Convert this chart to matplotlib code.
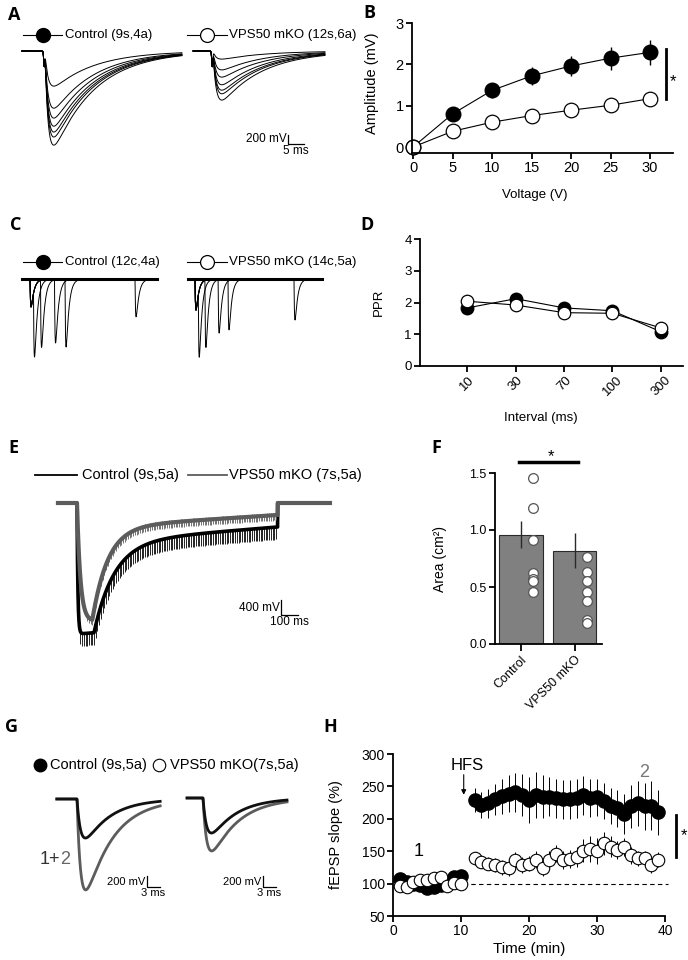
import numpy as np
import matplotlib.pyplot as plt

plt.rcParams['font.family'] = ['Liberation Sans', 'DejaVu Sans']
BOLD = ['Open Sans', 'DejaVu Sans']
GRAY = '#5c5c5c'

# ---------------- data ----------------
# A: example fEPSPs, peak amplitude (uV) for each stimulus intensity
a_ctrl_peaks = [780, 1270, 1490, 1670, 1800, 1910, 2090]
a_ko_peaks = [180, 420, 580, 750, 870, 950, 1090]

# B: input-output curve
voltage = [0, 5, 10, 15, 20, 25, 30]
amp_ctrl = [0, 0.80, 1.37, 1.72, 1.96, 2.15, 2.29]
amp_ctrl_err = [0, 0.10, 0.18, 0.22, 0.25, 0.28, 0.30]
amp_ko = [0, 0.38, 0.60, 0.76, 0.89, 1.01, 1.17]
amp_ko_err = [0, 0.12, 0.08, 0.08, 0.12, 0.14, 0.15]

# C: paired-pulse traces (uV), interval in ms
pp_intervals = [10, 30, 70, 100, 300]
c_ctrl_first = 620
c_ctrl_second = [1510, 1500, 1420, 1510, 840]
c_ko_first = 690
c_ko_second = [1490, 1500, 1200, 1130, 910]

# D: paired-pulse ratio
ppr_labels = ['10', '30', '70', '100', '300']
ppr_ctrl = [1.83, 2.12, 1.83, 1.74, 1.08]
ppr_ctrl_err = [0.06, 0.07, 0.06, 0.06, 0.05]
ppr_ko = [2.04, 1.92, 1.68, 1.66, 1.20]
ppr_ko_err = [0.06, 0.06, 0.07, 0.08, 0.10]

# E: response to the HFS train (uV, ms)
train_ms = 1180
e_ctrl = dict(amp=2430, tau_r=5, hold=100, tau_d=120, p0=1070, p1=640)
e_ko = dict(amp=2510, tau_r=20, hold=90, tau_d=90, p0=670, p1=320)

# F: area
area_groups = ['Control', 'VPS50 mKO']
area_mean = [0.96, 0.82]
area_err = [0.12, 0.15]
area_ctrl_pts = [1.46, 1.19, 0.91, 0.62, 0.57, 0.55, 0.46]
area_ko_pts = [0.76, 0.63, 0.55, 0.46, 0.38, 0.21, 0.18]

# G: fEPSP before (1) and after (2) HFS, uV
g_before = [730, 655]
g_after = [1700, 990]

# H: LTP time course
t_base = list(range(1, 11))
t_post = list(range(12, 40))
ltp_ctrl_base = [107, 103, 100, 98, 93, 95, 98, 103, 110, 112]
ltp_ctrl_base_err = [6, 5, 5, 5, 6, 6, 5, 5, 6, 6]
ltp_ko_base = [96, 94, 103, 105, 106, 108, 110, 97, 101, 100]
ltp_ko_base_err = [6, 6, 6, 6, 7, 7, 7, 6, 6, 6]
ltp_ctrl_post = [229, 222, 224, 230, 235, 239, 241, 237, 229,
                 237, 234, 234, 232, 230, 230, 232, 236, 232, 233,
                 227, 220, 216, 208, 219, 224, 219, 220, 210]
ltp_ctrl_post_err = [18, 20, 22, 24, 27, 28, 30, 32, 36,
                     35, 33, 30, 30, 30, 30, 30, 30, 29, 29,
                     28, 28, 29, 31, 33, 35, 37, 38, 35]
ltp_ko_post = [139, 134, 131, 129, 125, 124, 137, 129, 131,
               137, 124, 137, 146, 137, 138, 141, 151, 153, 151,
               162, 157, 152, 156, 144, 139, 139, 129, 137]
ltp_ko_post_err = [10, 10, 10, 11, 11, 12, 12, 12, 12,
                   13, 13, 13, 13, 14, 14, 15, 18, 20, 20,
                   18, 16, 14, 14, 13, 12, 12, 12, 12]

# ---------------- helpers ----------------
W, H = 688, 960
fig = plt.figure(figsize=(W / 100, H / 100), dpi=100)


def px_axes(left, top, right, bottom):
    return fig.add_axes([left / W, 1 - bottom / H, (right - left) / W, (bottom - top) / H])


def trace_axes(left, top, right, bottom, x0, y0, px_ms, uv_px):
    # axes in ms / uV with stimulus time 0 and baseline 0 at pixel (x0, y0)
    ax = px_axes(left, top, right, bottom)
    ax.set_xlim((left - x0) / px_ms, (right - x0) / px_ms)
    ax.set_ylim(-(bottom - y0) * uv_px, (y0 - top) * uv_px)
    ax.axis('off')
    return ax


def epsp(t, amp, tau_r, tau_d):
    tp = np.log(tau_d / tau_r) * tau_d * tau_r / (tau_d - tau_r)
    norm = np.exp(-tp / tau_d) - np.exp(-tp / tau_r)
    s = np.clip(t, 0, None)
    return -amp * (np.exp(-s / tau_d) - np.exp(-s / tau_r)) / norm


def hfs_response(t, amp, tau_r, hold, tau_d, p0, p1, train=train_ms):
    s = np.clip(t, 0, None)
    rise = 1 - np.exp(-s / tau_r)
    trans = amp * rise * np.exp(-np.clip(s - hold, 0, None) / tau_d)
    plateau = (p0 + (p1 - p0) * s / train) * rise
    return np.where((t >= 0) & (t < train), -(trans + plateau), 0.0)


def scale_bar(ax, corner, dx, dy, vlabel, hlabel, fs=8.5):
    x, y = ax.transData.inverted().transform((corner[0], H - corner[1]))
    ax.plot([x, x, x + dx], [y + dy, y, y], color='k', lw=0.9, clip_on=False)
    ax.annotate(vlabel, (x, y + dy / 2), xytext=(-1, 0), textcoords='offset points',
                ha='right', va='center', fontsize=fs)
    ax.annotate(hlabel, (x + dx / 2, y), xytext=(0, -1), textcoords='offset points',
                ha='center', va='top', fontsize=fs)


def style(ax, fs=9.5):
    for s in ['top', 'right']:
        ax.spines[s].set_visible(False)
    for s in ['left', 'bottom']:
        ax.spines[s].set_linewidth(1.3)
    ax.tick_params(direction='out', length=4, width=1.3, labelsize=fs, pad=2)


# ---------------- A ----------------
def volley(t):
    return -350 * np.exp(-((t - 0.4) / 0.25) ** 2)


axA1 = trace_axes(10, 40, 186, 170, 43, 51, 3.2, 22.2)
t = np.linspace(-6.6, 43.4, 1200)
for a in a_ctrl_peaks:
    axA1.plot(t, epsp(t - 0.6, a, 1.0, 13) + volley(t), color='k', lw=0.7)
axA2 = trace_axes(186, 40, 350, 170, 211, 51, 3.2, 22.2)
t = np.linspace(-5.6, 35.6, 1000)
for a in a_ko_peaks:
    axA2.plot(t, epsp(t - 0.6, a, 1.0, 13) + volley(t), color='k', lw=0.7)
scale_bar(axA2, (288, 144), 5, 200, '200 mV', '5 ms')

# ---------------- B ----------------
axB = px_axes(412, 23, 673, 153)
axB.errorbar(voltage, amp_ctrl, yerr=amp_ctrl_err, fmt='o-', color='k', mfc='k',
             ms=10.5, lw=0.8, elinewidth=1, capsize=0, clip_on=False)
axB.errorbar(voltage, amp_ko, yerr=amp_ko_err, fmt='o-', color='k', mfc='white', mec='k',
             mew=0.9, ms=10.5, lw=0.8, elinewidth=1, capsize=0, clip_on=False)
axB.set_xlim(-0.13, 32.9)
axB.set_ylim(-0.145, 3)
axB.set_xticks(voltage)
axB.set_yticks([0, 1, 2, 3])
style(axB, 10.5)
axB.set_xlabel('Voltage (V)', fontsize=9.5)
axB.set_ylabel('Amplitude (mV)', fontsize=10.5)
axB.xaxis.set_label_coords(0.47, -0.28)
axB.yaxis.set_label_coords(-0.125, 0.54)

# ---------------- C ----------------
axC1 = trace_axes(10, 262, 180, 380, 30, 279, 0.35, 22.2)
t = np.linspace(-23, 363, 4000)
for iv, a2 in zip(pp_intervals, c_ctrl_second):
    axC1.plot(t, epsp(t, c_ctrl_first, 1.5, 8) + epsp(t - iv, a2, 1.5, 8), color='k', lw=0.7)
axC1.plot([-23, 363], [0, 0], color='k', lw=2.2)
axC2 = trace_axes(180, 262, 350, 380, 195, 279, 0.33, 22.2)
t = np.linspace(-21, 385, 4000)
for iv, a2 in zip(pp_intervals, c_ko_second):
    axC2.plot(t, epsp(t, c_ko_first, 1.5, 8) + epsp(t - iv, a2, 1.5, 8), color='k', lw=0.7)
axC2.plot([-21, 385], [0, 0], color='k', lw=2.2)

# ---------------- D ----------------
axD = px_axes(420, 239, 683, 366)
pos = np.arange(1, len(ppr_labels) + 1)
axD.errorbar(pos, ppr_ctrl, yerr=ppr_ctrl_err, fmt='o-', color='k', mfc='k',
             ms=9, lw=0.8, elinewidth=0.8, capsize=0)
axD.errorbar(pos, ppr_ko, yerr=ppr_ko_err, fmt='o-', color='k', mfc='white', mec='k',
             mew=0.9, ms=9, lw=0.8, elinewidth=0.8, capsize=0)
axD.set_xlim(0.02, 5.46)
axD.set_ylim(0, 4)
axD.set_yticks([0, 1, 2, 3, 4])
axD.set_xticks(pos)
axD.set_xticklabels(ppr_labels, rotation=45, ha='center', va='top')
style(axD, 9.5)
axD.set_xlabel('Interval (ms)', fontsize=9.5)
axD.set_ylabel('PPR', fontsize=9.5)
axD.xaxis.set_label_coords(0.46, -0.36)
axD.yaxis.set_label_coords(-0.135, 0.5)

# ---------------- E ----------------
axE = trace_axes(40, 490, 350, 660, 77, 503, 0.17, 26.7)
t = np.linspace(-112, 1488, 5000)
stim = np.arange(0, train_ms, 10)
axE.plot(t, hfs_response(t, **e_ctrl), color='k', lw=2.6)
vb = hfs_response(stim, **e_ctrl)
axE.vlines(stim, vb - 330, vb, color='k', lw=0.6)
axE.plot(t, hfs_response(t, **e_ko), color=GRAY, lw=3)
vg = hfs_response(stim, **e_ko)
axE.vlines(stim, vg - 140, vg + 60, color=GRAY, lw=0.6)
scale_bar(axE, (281, 615), 100, 400, '400 mV', '100 ms', fs=8.5)

# ---------------- F ----------------
axF = px_axes(495, 473, 602, 644)
xb = np.arange(len(area_groups))
axF.bar(xb, area_mean, width=0.82, color='#808080', edgecolor='#2a2a2a', lw=0.8, zorder=1)
axF.errorbar(xb, area_mean, yerr=area_err, fmt='none', ecolor='#2a2a2a', elinewidth=1, capsize=0, zorder=2)
axF.plot([0.22] * len(area_ctrl_pts), area_ctrl_pts, 'o', ms=7, mfc='white', mec='#555555', mew=0.9, zorder=3)
axF.plot([1.23] * len(area_ko_pts), area_ko_pts, 'o', ms=7, mfc='white', mec='#555555', mew=0.9, zorder=3)
axF.set_xlim(-0.486, 1.514)
axF.set_ylim(0, 1.5)
axF.set_yticks([0, 0.5, 1.0, 1.5])
axF.set_yticklabels(['0.0', '0.5', '1.0', '1.5'])
axF.set_xticks(xb)
axF.set_xticklabels(area_groups, rotation=45, ha='right', va='top', rotation_mode='anchor')
style(axF, 9)
axF.tick_params(axis='x', length=5)
axF.set_ylabel('Area (cm²)', fontsize=10)
axF.yaxis.set_label_coords(-0.45, 0.5)

# ---------------- G ----------------
axG1 = trace_axes(40, 780, 185, 900, 77, 799, 4.2, 18.7)
t = np.linspace(-4.8, 19.8, 600)
axG1.plot(t, epsp(t, g_after[0], 0.9, 6.5), color=GRAY, lw=2)
axG1.plot(t, epsp(t, g_before[0], 0.9, 6), color='#111111', lw=2)
scale_bar(axG1, (147, 887), 3, 200, '200 mV', '3 ms', fs=8)
axG2 = trace_axes(185, 780, 330, 900, 203, 798, 4.2, 18.7)
t = np.linspace(-3.8, 20, 600)
axG2.plot(t, epsp(t, g_after[1], 0.9, 6.5), color=GRAY, lw=2)
axG2.plot(t, epsp(t, g_before[1], 0.9, 6), color='#111111', lw=2)
scale_bar(axG2, (263, 887), 3, 200, '200 mV', '3 ms', fs=8)

# ---------------- H ----------------
axH = px_axes(393, 754, 665, 916)
times = t_base + t_post
axH.errorbar(times, ltp_ctrl_base + ltp_ctrl_post, yerr=ltp_ctrl_base_err + ltp_ctrl_post_err,
             fmt='o', ms=9.5, mfc='k', mec='k', ecolor='k', elinewidth=0.7, capsize=0)
axH.errorbar(times, ltp_ko_base + ltp_ko_post, yerr=ltp_ko_base_err + ltp_ko_post_err,
             fmt='o', ms=9, mfc='white', mec='k', mew=0.8, ecolor='k', elinewidth=0.7, capsize=0)
axH.plot([10.3, 40.5], [100, 100], 'k--', lw=0.8, dashes=(4, 3), clip_on=False)
axH.set_xlim(0, 40)
axH.set_ylim(50, 300)
axH.set_xticks([0, 10, 20, 30, 40])
axH.set_yticks([50, 100, 150, 200, 250, 300])
style(axH, 10)
axH.set_xlabel('Time (min)', fontsize=11)
axH.set_ylabel('fEPSP slope (%)', fontsize=10.5)
axH.xaxis.set_label_coords(0.5, -0.16)
axH.yaxis.set_label_coords(-0.185, 0.5)
axH.annotate('', xy=(10.4, 237), xytext=(10.4, 268),
             arrowprops=dict(arrowstyle='-|>', color='k', lw=0.8, mutation_scale=7, shrinkA=0, shrinkB=0))
axH.text(10.9, 282, 'HFS', fontsize=12, ha='center', va='center')
axH.text(3.7, 149, '1', fontsize=13, ha='center', va='center')
axH.text(37, 272, '2', fontsize=13, color='#777777', ha='center', va='center')

# ---------------- overlay: legends, letters, significance ----------------
ov = fig.add_axes([0, 0, 1, 1])
ov.set_xlim(0, W)
ov.set_ylim(H, 0)
ov.axis('off')

for y in (35, 262):
    ov.plot([23, 62], [y, y], color='k', lw=0.8)
    ov.plot([43], [y], 'o', ms=10, mfc='k', mec='k')
    ov.plot([187, 227], [y, y], color='k', lw=0.8)
    ov.plot([207], [y], 'o', ms=10, mfc='white', mec='k', mew=0.9)
ov.text(65, 35, 'Control (9s,4a)', fontsize=9.5, va='center')
ov.text(229, 35, 'VPS50 mKO (12s,6a)', fontsize=9.5, va='center')
ov.text(65, 262, 'Control (12c,4a)', fontsize=9.5, va='center')
ov.text(229, 262, 'VPS50 mKO (14c,5a)', fontsize=9.5, va='center')

ov.plot([35, 77], [475, 475], color='k', lw=1.3)
ov.text(82, 475, 'Control (9s,5a)', fontsize=10.5, va='center')
ov.plot([188, 227], [475, 475], color=GRAY, lw=1.3)
ov.text(229, 475, 'VPS50 mKO (7s,5a)', fontsize=10.5, va='center')

ov.plot([40], [765], 'o', ms=9, mfc='k', mec='k')
ov.text(50, 765, 'Control (9s,5a)', fontsize=10.5, va='center')
ov.plot([159], [765], 'o', ms=9, mfc='white', mec='k', mew=0.8)
ov.text(170, 765, 'VPS50 mKO(7s,5a)', fontsize=10.5, va='center')
ov.text(60, 859, '1+', fontsize=13, color='#333333', ha='right', va='center')
ov.text(60, 859, '2', fontsize=13, color='#666666', ha='left', va='center')

for lab, x, y in [('A', 14, 15), ('B', 369, 13), ('C', 16, 225), ('D', 367, 225),
                  ('E', 13, 448), ('F', 436, 448), ('G', 12, 727), ('H', 330, 727)]:
    ov.text(x, y, lab, fontsize=13, fontweight='bold', family=BOLD, ha='center', va='center')

ov.plot([666, 666], [49, 99], color='k', lw=2)
ov.text(673, 82, '*', fontsize=12, ha='center', va='center')
ov.plot([519, 578], [462, 462], color='k', lw=2.5)
ov.text(551, 457, '*', fontsize=12, ha='center', va='center')
ov.plot([676, 676], [815, 857], color='k', lw=2)
ov.text(684, 836, '*', fontsize=12, ha='center', va='center')

fig.savefig('out.png', dpi=100)
